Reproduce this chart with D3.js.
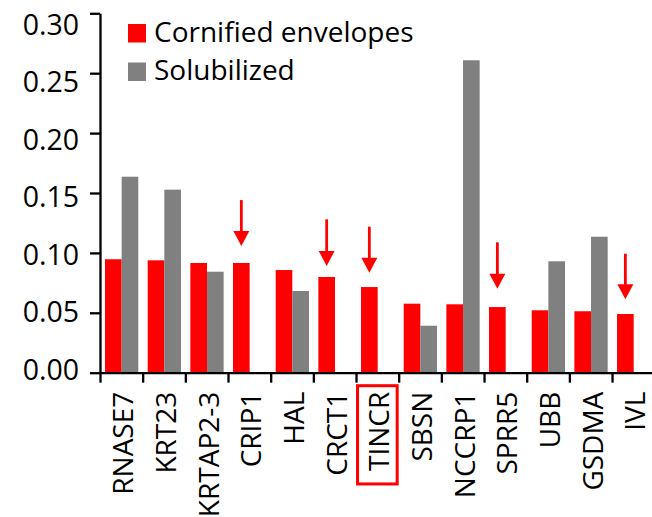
<!DOCTYPE html>
<html>
<head>
<meta charset="utf-8">
<script src="https://cdn.jsdelivr.net/npm/d3@7.9.0/dist/d3.min.js"></script>
<style>
  body { margin: 0; background: #fff; }
  svg { display: block; font-family: "Open Sans", sans-serif; }
</style>
</head>
<body>
<svg id="chart" width="652" height="517"></svg>
<script>
const categories = ["RNASE7", "KRT23", "KRTAP2-3", "CRIP1", "HAL", "CRCT1", "TINCR", "SBSN", "NCCRP1", "SPRR5", "UBB", "GSDMA", "IVL"];
const cornified = [0.0947, 0.0938, 0.0916, 0.0916, 0.0857, 0.0799, 0.0715, 0.0576, 0.0571, 0.0548, 0.0521, 0.0513, 0.0490];
const solubilized = [0.1636, 0.1528, 0.0843, 0, 0.0682, 0, 0, 0.0392, 0.2608, 0, 0.0930, 0.1135, 0];
const seriesNames = ["Cornified envelopes", "Solubilized"];
const seriesColors = ["#ff0000", "#808080"];
const yTicks = [0, 0.05, 0.10, 0.15, 0.20, 0.25, 0.30];

// red arrows pointing at selected genes (top of shaft / tip, in data units)
const arrowGenes = ["CRIP1", "CRCT1", "TINCR", "SPRR5", "IVL"];
const arrowTop = [0.1441, 0.1280, 0.1219, 0.1088, 0.0993];
const arrowTip = [0.1057, 0.0891, 0.0835, 0.0701, 0.0613];
const boxedGene = "TINCR";

const svg = d3.select('#chart');
const step = 42.67;
const left = 100, base = 372.7;

const x = d3.scaleBand().domain(categories).range([left, left + step * categories.length]);
const xEdge = d3.scaleLinear().domain([0, categories.length]).range([left, left + step * categories.length]);
const xs = d3.scaleBand().domain(seriesNames).range([5, 38.3]);
const y = d3.scaleLinear().domain([0, 0.30]).range([base, 13.3]);
// tick labels sit on a slightly tighter spacing than the tick marks
const yLabel = d3.scaleLinear().domain([0, 0.30]).range([368.8, 24]);

const rows = categories.map((c, i) => ({ name: c, values: [cornified[i], solubilized[i]] }));

// bars
svg.append('g').selectAll('g')
  .data(rows)
  .join('g')
  .attr('transform', d => `translate(${x(d.name)},0)`)
  .selectAll('rect')
  .data(d => d.values.map((v, j) => ({ key: seriesNames[j], v, color: seriesColors[j] })))
  .join('rect')
  .attr('x', d => xs(d.key))
  .attr('width', xs.bandwidth())
  .attr('y', d => y(d.v))
  .attr('height', d => base - y(d.v))
  .attr('fill', d => d.color);

// y axis: ticks + line
const yAxisG = svg.append('g')
  .attr('transform', `translate(${left},0)`)
  .call(d3.axisLeft(y).tickValues(yTicks).tickSize(10).tickSizeOuter(0).tickFormat(''));
yAxisG.selectAll('path, line').attr('stroke-width', 2.3);

// y axis labels
const yLab = svg.append('g')
  .attr('transform', `translate(${left},0)`)
  .call(d3.axisLeft(yLabel).tickValues(yTicks).tickSize(0).tickPadding(21).tickFormat(d3.format('.2f')));
yLab.select('.domain').remove();
yLab.selectAll('text')
  .attr('font-family', '"Open Sans", sans-serif')
  .attr('font-size', 28.5)
  .attr('dy', '0.36em')
  .attr('fill', '#000');

// x axis: line + ticks at band edges
const xAxisG = svg.append('g')
  .attr('transform', `translate(0,${base})`)
  .call(d3.axisBottom(xEdge).tickValues(d3.range(categories.length)).tickSize(10).tickSizeOuter(0).tickFormat(''));
xAxisG.selectAll('path, line').attr('stroke-width', 2.3);

// x labels, rotated
const xLab = svg.append('g')
  .attr('transform', `translate(0,${base})`)
  .call(d3.axisBottom(x).tickSize(0));
xLab.select('.domain').remove();
xLab.selectAll('text')
  .attr('font-family', '"Open Sans", sans-serif')
  .attr('font-size', 28)
  .attr('fill', '#000')
  .attr('text-anchor', 'end')
  .attr('transform', 'rotate(-90)')
  .attr('x', -19)
  .attr('y', 12)
  .attr('dy', 0);

// box around highlighted gene label
const boxText = xLab.selectAll('.tick').filter(d => d === boxedGene).select('text');
const len = boxText.node().getComputedTextLength();
svg.append('rect')
  .attr('x', x(boxedGene) + 1.5)
  .attr('y', base + 13)
  .attr('width', x.bandwidth() - 3)
  .attr('height', len + 19)
  .attr('fill', 'none')
  .attr('stroke', '#ff0000')
  .attr('stroke-width', 3);

// arrows
const arrows = arrowGenes.map((g, i) => ({ g, top: arrowTop[i], tip: arrowTip[i] }));
const ag = svg.append('g').selectAll('g')
  .data(arrows)
  .join('g')
  .attr('transform', d => `translate(${x(d.g) + xs(seriesNames[0]) + xs.bandwidth() / 2},0)`);
ag.append('line')
  .attr('x1', 0).attr('x2', 0)
  .attr('y1', d => y(d.top))
  .attr('y2', d => y(d.tip) - 12)
  .attr('stroke', '#ff0000')
  .attr('stroke-width', 2.8);
ag.append('path')
  .attr('d', d => `M-8,${y(d.tip) - 15}L8,${y(d.tip) - 15}L0,${y(d.tip)}Z`)
  .attr('fill', '#ff0000');

// legend
const legend = svg.append('g').selectAll('g')
  .data(seriesNames)
  .join('g')
  .attr('transform', (d, i) => `translate(128,${24 + i * 38.5})`);
legend.append('rect')
  .attr('width', 18).attr('height', 18.5)
  .attr('fill', (d, i) => seriesColors[i]);
legend.append('text')
  .attr('x', 26).attr('y', 17.5)
  .attr('font-size', 28)
  .attr('fill', '#000')
  .text(d => d);
</script>
</body>
</html>
